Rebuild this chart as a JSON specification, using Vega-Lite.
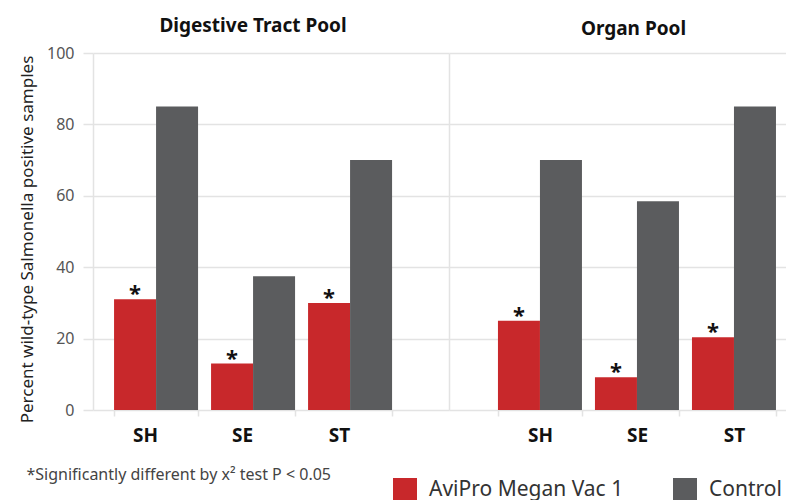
{
  "$schema": "https://vega.github.io/schema/vega-lite/v6.json",
  "padding": {"left": 18, "top": 17, "right": 0, "bottom": 0},
  "config": {
    "font": "Noto Sans",
    "view": {"stroke": null},
    "concat": {"spacing": 0},
    "title": {"fontSize": 19, "fontWeight": "bold", "color": "#111111", "offset": 14, "anchor": "middle"}
  },
  "datasets": {
    "d": [
      {"pool": "Digestive Tract Pool", "serovar": "SH", "group": "AviPro Megan Vac 1", "value": 31, "sig": "*"},
      {"pool": "Digestive Tract Pool", "serovar": "SH", "group": "Control", "value": 85, "sig": ""},
      {"pool": "Digestive Tract Pool", "serovar": "SE", "group": "AviPro Megan Vac 1", "value": 13, "sig": "*"},
      {"pool": "Digestive Tract Pool", "serovar": "SE", "group": "Control", "value": 37.5, "sig": ""},
      {"pool": "Digestive Tract Pool", "serovar": "ST", "group": "AviPro Megan Vac 1", "value": 30, "sig": "*"},
      {"pool": "Digestive Tract Pool", "serovar": "ST", "group": "Control", "value": 70, "sig": ""},
      {"pool": "Organ Pool", "serovar": "SH", "group": "AviPro Megan Vac 1", "value": 25, "sig": "*"},
      {"pool": "Organ Pool", "serovar": "SH", "group": "Control", "value": 70, "sig": ""},
      {"pool": "Organ Pool", "serovar": "SE", "group": "AviPro Megan Vac 1", "value": 9.2, "sig": "*"},
      {"pool": "Organ Pool", "serovar": "SE", "group": "Control", "value": 58.5, "sig": ""},
      {"pool": "Organ Pool", "serovar": "ST", "group": "AviPro Megan Vac 1", "value": 20.4, "sig": "*"},
      {"pool": "Organ Pool", "serovar": "ST", "group": "Control", "value": 85, "sig": ""}
    ]
  },
  "resolve": {
    "scale": {"x": "independent", "xOffset": "independent", "y": "shared", "color": "shared"},
    "axis": {"x": "independent", "y": "independent"}
  },
  "hconcat": [
    {
      "title": {"text": "Digestive Tract Pool", "dx": -18, "offset": 9},
      "width": 356,
      "height": 357,
      "data": {"name": "d"},
      "transform": [{"filter": "datum.pool === 'Digestive Tract Pool'"}],
      "encoding": {
        "x": {
          "field": "serovar", "type": "nominal",
          "scale": {"domain": ["SH", "SE", "ST"], "paddingInner": 0.134, "paddingOuter": 0.402, "align": 0.27},
          "axis": {
            "title": "*Significantly different by x² test P < 0.05",
            "titleFontSize": 16, "titleFontWeight": "normal", "titleColor": "#444444",
            "titleAlign": "left", "titleBaseline": "alphabetic", "titleX": -67, "titleY": 69,
            "labelAngle": 0, "labelFontSize": 19, "labelFontWeight": "bold", "labelColor": "#111111",
            "labelPadding": 10, "labelOffset": -11,
            "domain": false, "tickBand": "extent", "tickColor": "#e3e3e3", "tickSize": 6, "tickWidth": 1.5
          }
        },
        "xOffset": {"field": "group", "type": "nominal", "scale": {"domain": ["AviPro Megan Vac 1", "Control"]}},
        "y": {
          "field": "value", "type": "quantitative",
          "scale": {"domain": [0, 100], "nice": false},
          "axis": {
            "values": [0, 20, 40, 60, 80, 100],
            "title": "Percent wild-type Salmonella positive samples",
            "titleFontSize": 17, "titleFontWeight": "normal", "titleColor": "#222222", "titlePadding": 10,
            "titleY": 186,
            "labelFontSize": 16, "labelColor": "#555555", "labelPadding": 9,
            "tickSize": 10, "tickColor": "#e3e3e3", "tickWidth": 1.5,
            "gridColor": "#e3e3e3", "gridWidth": 1.5,
            "domainColor": "#e3e3e3", "domainWidth": 1.5
          }
        }
      },
      "layer": [
        {
          "mark": {"type": "bar"},
          "encoding": {
            "color": {
              "field": "group", "type": "nominal",
              "scale": {"domain": ["AviPro Megan Vac 1", "Control"], "range": ["#c8282b", "#5b5c5e"]},
              "legend": {
                "title": null, "orient": "none", "direction": "horizontal",
                "legendX": 300, "legendY": 425,
                "symbolType": "square", "symbolSize": 576, "symbolStrokeWidth": 0, "symbolOpacity": 1,
                "labelFontSize": 21, "labelColor": "#333333", "labelOffset": 12, "labelLimit": 400, "columnPadding": 49
              }
            }
          }
        },
        {
          "transform": [{"filter": "datum.sig === '*'"}],
          "mark": {"type": "text", "fontSize": 22, "fontWeight": "bold", "color": "#111111", "baseline": "alphabetic", "dy": 2},
          "encoding": {"text": {"field": "sig"}}
        }
      ]
    },
    {
      "title": {"text": "Organ Pool", "dx": 16},
      "width": 337,
      "height": 357,
      "data": {"name": "d"},
      "transform": [{"filter": "datum.pool === 'Organ Pool'"}],
      "encoding": {
        "x": {
          "field": "serovar", "type": "nominal",
          "scale": {"domain": ["SH", "SE", "ST"], "paddingInner": 0.134, "paddingOuter": 0.304, "align": 0.83},
          "axis": {
            "title": null,
            "labelAngle": 0, "labelFontSize": 19, "labelFontWeight": "bold", "labelColor": "#111111",
            "labelPadding": 10,
            "domain": false, "tickBand": "extent", "tickColor": "#e3e3e3", "tickSize": 6, "tickWidth": 1.5
          }
        },
        "xOffset": {"field": "group", "type": "nominal", "scale": {"domain": ["AviPro Megan Vac 1", "Control"]}},
        "y": {
          "field": "value", "type": "quantitative",
          "scale": {"domain": [0, 100], "nice": false},
          "axis": {
            "values": [0, 20, 40, 60, 80, 100],
            "title": null, "labels": false, "ticks": false,
            "gridColor": "#e3e3e3", "gridWidth": 1.5,
            "domainColor": "#e3e3e3", "domainWidth": 1.5
          }
        }
      },
      "layer": [
        {
          "mark": {"type": "bar"},
          "encoding": {
            "color": {
              "field": "group", "type": "nominal",
              "scale": {"domain": ["AviPro Megan Vac 1", "Control"], "range": ["#c8282b", "#5b5c5e"]}
            }
          }
        },
        {
          "transform": [{"filter": "datum.sig === '*'"}],
          "mark": {"type": "text", "fontSize": 22, "fontWeight": "bold", "color": "#111111", "baseline": "alphabetic", "dy": 2},
          "encoding": {"text": {"field": "sig"}}
        }
      ]
    }
  ]
}
